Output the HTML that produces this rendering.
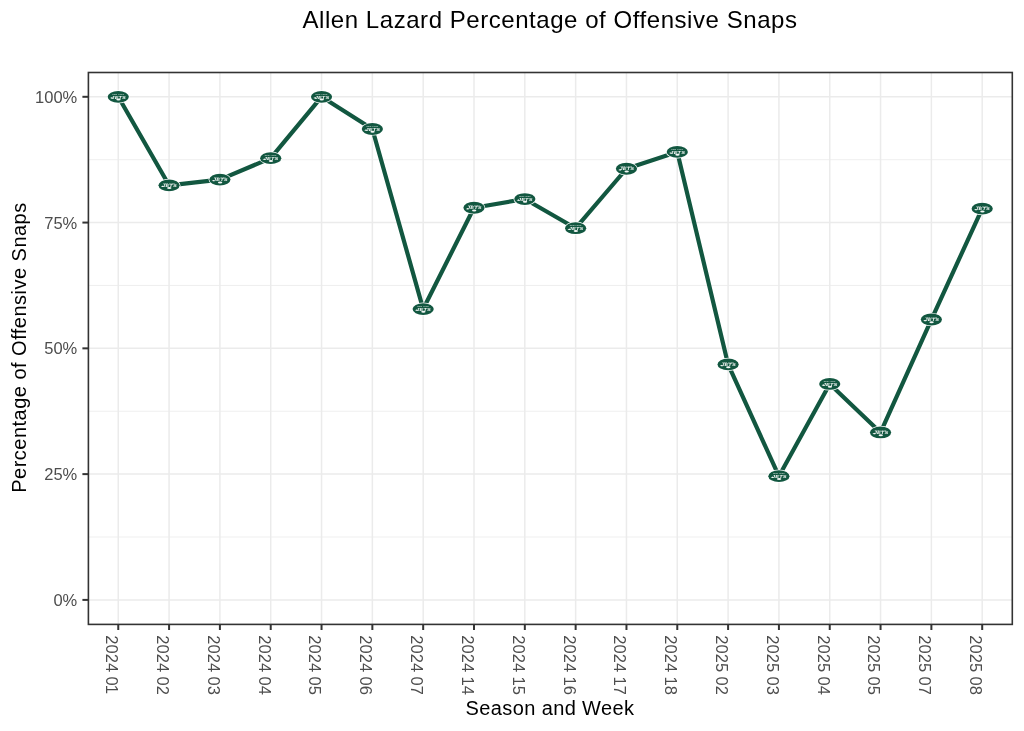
<!DOCTYPE html><html><head><meta charset="utf-8"><style>html,body{margin:0;padding:0;background:#fff;}svg{display:block;font-family:"Liberation Sans",sans-serif;will-change:transform;}</style></head><body>
<svg width="1024" height="731" viewBox="0 0 1024 731">
<rect x="0" y="0" width="1024" height="731" fill="#fff"/>
<line x1="88.4" y1="537.01" x2="1012.3" y2="537.01" stroke="#EDEDED" stroke-width="0.9"/>
<line x1="88.4" y1="411.24" x2="1012.3" y2="411.24" stroke="#EDEDED" stroke-width="0.9"/>
<line x1="88.4" y1="285.46" x2="1012.3" y2="285.46" stroke="#EDEDED" stroke-width="0.9"/>
<line x1="88.4" y1="159.69" x2="1012.3" y2="159.69" stroke="#EDEDED" stroke-width="0.9"/>
<line x1="88.4" y1="599.90" x2="1012.3" y2="599.90" stroke="#EBEBEB" stroke-width="1.5"/>
<line x1="88.4" y1="474.12" x2="1012.3" y2="474.12" stroke="#EBEBEB" stroke-width="1.5"/>
<line x1="88.4" y1="348.35" x2="1012.3" y2="348.35" stroke="#EBEBEB" stroke-width="1.5"/>
<line x1="88.4" y1="222.57" x2="1012.3" y2="222.57" stroke="#EBEBEB" stroke-width="1.5"/>
<line x1="88.4" y1="96.80" x2="1012.3" y2="96.80" stroke="#EBEBEB" stroke-width="1.5"/>
<line x1="118.26" y1="72.5" x2="118.26" y2="624.4" stroke="#EBEBEB" stroke-width="1.5"/>
<line x1="169.08" y1="72.5" x2="169.08" y2="624.4" stroke="#EBEBEB" stroke-width="1.5"/>
<line x1="219.90" y1="72.5" x2="219.90" y2="624.4" stroke="#EBEBEB" stroke-width="1.5"/>
<line x1="270.72" y1="72.5" x2="270.72" y2="624.4" stroke="#EBEBEB" stroke-width="1.5"/>
<line x1="321.54" y1="72.5" x2="321.54" y2="624.4" stroke="#EBEBEB" stroke-width="1.5"/>
<line x1="372.36" y1="72.5" x2="372.36" y2="624.4" stroke="#EBEBEB" stroke-width="1.5"/>
<line x1="423.18" y1="72.5" x2="423.18" y2="624.4" stroke="#EBEBEB" stroke-width="1.5"/>
<line x1="474.00" y1="72.5" x2="474.00" y2="624.4" stroke="#EBEBEB" stroke-width="1.5"/>
<line x1="524.82" y1="72.5" x2="524.82" y2="624.4" stroke="#EBEBEB" stroke-width="1.5"/>
<line x1="575.64" y1="72.5" x2="575.64" y2="624.4" stroke="#EBEBEB" stroke-width="1.5"/>
<line x1="626.46" y1="72.5" x2="626.46" y2="624.4" stroke="#EBEBEB" stroke-width="1.5"/>
<line x1="677.28" y1="72.5" x2="677.28" y2="624.4" stroke="#EBEBEB" stroke-width="1.5"/>
<line x1="728.10" y1="72.5" x2="728.10" y2="624.4" stroke="#EBEBEB" stroke-width="1.5"/>
<line x1="778.92" y1="72.5" x2="778.92" y2="624.4" stroke="#EBEBEB" stroke-width="1.5"/>
<line x1="829.74" y1="72.5" x2="829.74" y2="624.4" stroke="#EBEBEB" stroke-width="1.5"/>
<line x1="880.56" y1="72.5" x2="880.56" y2="624.4" stroke="#EBEBEB" stroke-width="1.5"/>
<line x1="931.38" y1="72.5" x2="931.38" y2="624.4" stroke="#EBEBEB" stroke-width="1.5"/>
<line x1="982.20" y1="72.5" x2="982.20" y2="624.4" stroke="#EBEBEB" stroke-width="1.5"/>
<polyline points="118.26,96.80 169.08,185.30 219.90,179.61 270.72,158.13 321.54,96.80 372.36,129.00 423.18,309.06 474.00,207.73 524.82,199.03 575.64,228.21 626.46,168.74 677.28,151.89 728.10,364.45 778.92,476.19 829.74,383.97 880.56,432.47 931.38,319.52 982.20,208.64" fill="none" stroke="#125740" stroke-width="4.2" stroke-linejoin="round"/>
<defs><g id="logo"><ellipse cx="0" cy="0" rx="11.3" ry="6.6" fill="#fff"/><ellipse cx="0" cy="0" rx="10.6" ry="5.9" fill="#125740"/><text x="0" y="-1.75" font-size="1.6" font-weight="bold" fill="#fff" opacity="0.75" text-anchor="middle" letter-spacing="0.15" transform="scale(1.2,1)">NEW YORK</text><g fill="#fff" opacity="0.95"><path d="M-8.2,1.2 L-6.0,0.3 L-5.2,1.7 L-6.7,1.7 Z"/><text x="0.3" y="1.7" font-size="3.9" font-weight="bold" font-style="italic" text-anchor="middle" letter-spacing="0.1" transform="scale(1.45,1)">JETS</text><ellipse cx="0.2" cy="2.8" rx="2.2" ry="1.0"/></g></g></defs>
<use href="#logo" x="118.26" y="96.80"/>
<use href="#logo" x="169.08" y="185.30"/>
<use href="#logo" x="219.90" y="179.61"/>
<use href="#logo" x="270.72" y="158.13"/>
<use href="#logo" x="321.54" y="96.80"/>
<use href="#logo" x="372.36" y="129.00"/>
<use href="#logo" x="423.18" y="309.06"/>
<use href="#logo" x="474.00" y="207.73"/>
<use href="#logo" x="524.82" y="199.03"/>
<use href="#logo" x="575.64" y="228.21"/>
<use href="#logo" x="626.46" y="168.74"/>
<use href="#logo" x="677.28" y="151.89"/>
<use href="#logo" x="728.10" y="364.45"/>
<use href="#logo" x="778.92" y="476.19"/>
<use href="#logo" x="829.74" y="383.97"/>
<use href="#logo" x="880.56" y="432.47"/>
<use href="#logo" x="931.38" y="319.52"/>
<use href="#logo" x="982.20" y="208.64"/>
<rect x="88.4" y="72.5" width="923.90" height="551.90" fill="none" stroke="#333" stroke-width="1.6"/>
<line x1="82.4" y1="599.90" x2="88.4" y2="599.90" stroke="#333" stroke-width="2"/>
<text x="77.3" y="605.90" font-size="16.5" fill="#4D4D4D" text-anchor="end">0%</text>
<line x1="82.4" y1="474.12" x2="88.4" y2="474.12" stroke="#333" stroke-width="2"/>
<text x="77.3" y="480.12" font-size="16.5" fill="#4D4D4D" text-anchor="end">25%</text>
<line x1="82.4" y1="348.35" x2="88.4" y2="348.35" stroke="#333" stroke-width="2"/>
<text x="77.3" y="354.35" font-size="16.5" fill="#4D4D4D" text-anchor="end">50%</text>
<line x1="82.4" y1="222.57" x2="88.4" y2="222.57" stroke="#333" stroke-width="2"/>
<text x="77.3" y="228.57" font-size="16.5" fill="#4D4D4D" text-anchor="end">75%</text>
<line x1="82.4" y1="96.80" x2="88.4" y2="96.80" stroke="#333" stroke-width="2"/>
<text x="77.3" y="102.80" font-size="16.5" fill="#4D4D4D" text-anchor="end">100%</text>
<line x1="118.26" y1="624.4" x2="118.26" y2="630.0" stroke="#333" stroke-width="2"/>
<text transform="translate(106.16,635.2) rotate(90)" font-size="16.5" fill="#4D4D4D" letter-spacing="0.13" word-spacing="-0.7">2024 0<tspan dx="-0.9">1</tspan></text>
<line x1="169.08" y1="624.4" x2="169.08" y2="630.0" stroke="#333" stroke-width="2"/>
<text transform="translate(156.98,635.2) rotate(90)" font-size="16.5" fill="#4D4D4D" letter-spacing="0.13" word-spacing="-0.7">2024 0<tspan dx="0">2</tspan></text>
<line x1="219.90" y1="624.4" x2="219.90" y2="630.0" stroke="#333" stroke-width="2"/>
<text transform="translate(207.80,635.2) rotate(90)" font-size="16.5" fill="#4D4D4D" letter-spacing="0.13" word-spacing="-0.7">2024 0<tspan dx="0">3</tspan></text>
<line x1="270.72" y1="624.4" x2="270.72" y2="630.0" stroke="#333" stroke-width="2"/>
<text transform="translate(258.62,635.2) rotate(90)" font-size="16.5" fill="#4D4D4D" letter-spacing="0.13" word-spacing="-0.7">2024 0<tspan dx="0">4</tspan></text>
<line x1="321.54" y1="624.4" x2="321.54" y2="630.0" stroke="#333" stroke-width="2"/>
<text transform="translate(309.44,635.2) rotate(90)" font-size="16.5" fill="#4D4D4D" letter-spacing="0.13" word-spacing="-0.7">2024 0<tspan dx="0">5</tspan></text>
<line x1="372.36" y1="624.4" x2="372.36" y2="630.0" stroke="#333" stroke-width="2"/>
<text transform="translate(360.26,635.2) rotate(90)" font-size="16.5" fill="#4D4D4D" letter-spacing="0.13" word-spacing="-0.7">2024 0<tspan dx="0">6</tspan></text>
<line x1="423.18" y1="624.4" x2="423.18" y2="630.0" stroke="#333" stroke-width="2"/>
<text transform="translate(411.08,635.2) rotate(90)" font-size="16.5" fill="#4D4D4D" letter-spacing="0.13" word-spacing="-0.7">2024 0<tspan dx="0">7</tspan></text>
<line x1="474.00" y1="624.4" x2="474.00" y2="630.0" stroke="#333" stroke-width="2"/>
<text transform="translate(461.90,635.2) rotate(90)" font-size="16.5" fill="#4D4D4D" letter-spacing="0.13" word-spacing="-0.7">2024 1<tspan dx="0">4</tspan></text>
<line x1="524.82" y1="624.4" x2="524.82" y2="630.0" stroke="#333" stroke-width="2"/>
<text transform="translate(512.72,635.2) rotate(90)" font-size="16.5" fill="#4D4D4D" letter-spacing="0.13" word-spacing="-0.7">2024 1<tspan dx="0">5</tspan></text>
<line x1="575.64" y1="624.4" x2="575.64" y2="630.0" stroke="#333" stroke-width="2"/>
<text transform="translate(563.54,635.2) rotate(90)" font-size="16.5" fill="#4D4D4D" letter-spacing="0.13" word-spacing="-0.7">2024 1<tspan dx="0">6</tspan></text>
<line x1="626.46" y1="624.4" x2="626.46" y2="630.0" stroke="#333" stroke-width="2"/>
<text transform="translate(614.36,635.2) rotate(90)" font-size="16.5" fill="#4D4D4D" letter-spacing="0.13" word-spacing="-0.7">2024 1<tspan dx="0">7</tspan></text>
<line x1="677.28" y1="624.4" x2="677.28" y2="630.0" stroke="#333" stroke-width="2"/>
<text transform="translate(665.18,635.2) rotate(90)" font-size="16.5" fill="#4D4D4D" letter-spacing="0.13" word-spacing="-0.7">2024 1<tspan dx="0">8</tspan></text>
<line x1="728.10" y1="624.4" x2="728.10" y2="630.0" stroke="#333" stroke-width="2"/>
<text transform="translate(716.00,635.2) rotate(90)" font-size="16.5" fill="#4D4D4D" letter-spacing="0.13" word-spacing="-0.7">2025 0<tspan dx="0">2</tspan></text>
<line x1="778.92" y1="624.4" x2="778.92" y2="630.0" stroke="#333" stroke-width="2"/>
<text transform="translate(766.82,635.2) rotate(90)" font-size="16.5" fill="#4D4D4D" letter-spacing="0.13" word-spacing="-0.7">2025 0<tspan dx="0">3</tspan></text>
<line x1="829.74" y1="624.4" x2="829.74" y2="630.0" stroke="#333" stroke-width="2"/>
<text transform="translate(817.64,635.2) rotate(90)" font-size="16.5" fill="#4D4D4D" letter-spacing="0.13" word-spacing="-0.7">2025 0<tspan dx="0">4</tspan></text>
<line x1="880.56" y1="624.4" x2="880.56" y2="630.0" stroke="#333" stroke-width="2"/>
<text transform="translate(868.46,635.2) rotate(90)" font-size="16.5" fill="#4D4D4D" letter-spacing="0.13" word-spacing="-0.7">2025 0<tspan dx="0">5</tspan></text>
<line x1="931.38" y1="624.4" x2="931.38" y2="630.0" stroke="#333" stroke-width="2"/>
<text transform="translate(919.28,635.2) rotate(90)" font-size="16.5" fill="#4D4D4D" letter-spacing="0.13" word-spacing="-0.7">2025 0<tspan dx="0">7</tspan></text>
<line x1="982.20" y1="624.4" x2="982.20" y2="630.0" stroke="#333" stroke-width="2"/>
<text transform="translate(970.10,635.2) rotate(90)" font-size="16.5" fill="#4D4D4D" letter-spacing="0.13" word-spacing="-0.7">2025 0<tspan dx="0">8</tspan></text>
<text x="550" y="28.1" font-size="24" fill="#000" text-anchor="middle" letter-spacing="0.55">Allen Lazard Percentage of Offensive Snaps</text>
<text x="550" y="714.7" font-size="20" fill="#000" text-anchor="middle" letter-spacing="0.38">Season and Week</text>
<text transform="translate(26.2,347.5) rotate(-90)" font-size="20" fill="#000" text-anchor="middle" letter-spacing="0.48">Percentage of Offensive Snaps</text>
</svg></body></html>
